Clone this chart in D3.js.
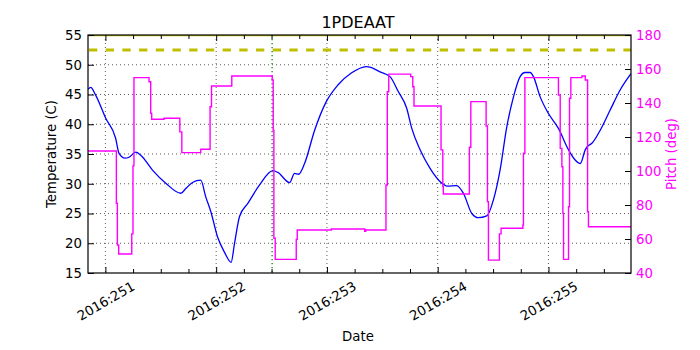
<!DOCTYPE html>
<html>
<head>
<meta charset="utf-8">
<script src="https://cdn.jsdelivr.net/npm/d3@7"></script>
<style>
  body { margin: 0; background: #fff; }
  svg { display: block; }
  text { font-family: "DejaVu Sans", sans-serif; }
</style>
</head>
<body>
<svg id="chart" width="700" height="350"></svg>
<script>
// Time axis: fractional day of year 2016
const dayRange = [250.843, 255.745];
const dayTicks = [251, 252, 253, 254, 255];
const dayTickLabels = ["2016:251", "2016:252", "2016:253", "2016:254", "2016:255"];
const dayMinorTicks = [251.25, 251.5, 251.75, 252.25, 252.5, 252.75, 253.25, 253.5, 253.75,
                       254.25, 254.5, 254.75, 255.25, 255.5];

const tempTicks = [15, 20, 25, 30, 35, 40, 45, 50, 55];
const pitchTicks = [40, 60, 80, 100, 120, 140, 160, 180];

// 1PDEAAT temperature (C)
const tempTime = [250.843, 250.867, 250.912, 251.003, 251.093, 251.123, 251.177, 251.213, 251.274, 251.319,
  251.425, 251.545, 251.681, 251.726, 251.786, 251.861, 251.906, 251.952, 252.012, 252.072,
  252.135, 252.166, 252.211, 252.286, 252.392, 252.512, 252.557, 252.663, 252.708, 252.744,
  252.798, 252.889, 252.994, 253.099, 253.220, 253.355, 253.389, 253.479, 253.569, 253.644,
  253.720, 253.766, 253.841, 253.931, 254.037, 254.082, 254.172, 254.232, 254.308, 254.367,
  254.443, 254.503, 254.563, 254.624, 254.684, 254.744, 254.789, 254.835, 254.864, 254.925,
  255.000, 255.090, 255.181, 255.241, 255.287, 255.332, 255.353, 255.392, 255.467, 255.557,
  255.648, 255.745];
const tempValue = [45.9, 46.2, 44.9, 41.0, 37.6, 35.1, 34.3, 34.45, 35.3, 34.8,
  32.3, 30.1, 28.4, 29.2, 30.2, 30.6, 27.8, 25.3, 21.1, 18.6,
  16.8, 20.0, 24.5, 26.7, 29.8, 32.2, 31.9, 30.2, 31.75, 31.6,
  33.4, 39.0, 43.8, 46.6, 48.6, 49.7, 49.6, 48.8, 48.0, 45.5,
  42.7, 39.3, 35.7, 32.6, 30.1, 29.6, 29.7, 28.4, 25.0, 24.3,
  24.6, 27.3, 32.3, 39.6, 44.6, 48.0, 48.7, 48.7, 48.0, 44.6,
  41.8, 39.3, 35.7, 34.0, 33.4, 35.7, 36.3, 36.8, 39.0, 42.4,
  45.8, 48.5];

// Pitch (deg), held until the next sample
const pitchTime = [250.843, 251.099, 251.108, 251.120, 251.238, 251.249, 251.258, 251.394, 251.409, 251.418,
  251.530, 251.672, 251.690, 251.861, 251.945, 251.958, 252.141, 252.506, 252.515, 252.521,
  252.533, 252.723, 252.732, 253.039, 253.341, 253.350, 253.533, 253.545, 253.558, 253.756,
  253.775, 253.786, 254.030, 254.046, 254.051, 254.286, 254.299, 254.437, 254.449, 254.458,
  254.557, 254.572, 254.769, 254.774, 254.787, 255.090, 255.106, 255.121, 255.130, 255.136,
  255.181, 255.190, 255.202, 255.302, 255.332, 255.353, 255.361, 255.745];
const pitchValue = [111.8, 81, 56.5, 51.2, 63, 103, 154.9, 152.5, 134, 130.4,
  131, 123, 110.8, 112.8, 137.8, 150, 155.9, 153.5, 124, 60.4,
  48, 59.8, 65.3, 65.9, 64.6, 65.3, 91.8, 146.6, 157, 155.5,
  149.6, 138.2, 112.4, 90.8, 86.5, 114, 140.8, 126.5, 82, 47.6,
  63, 66.3, 68.2, 110.4, 154.9, 144.7, 113.3, 102.5, 75.1, 48,
  79, 142.8, 154.9, 155.9, 153.5, 76, 67.2, 67.2];

const tempLimit = 52.5;     // yellow dashed limit
const tempCeiling = 55;     // yellow solid line at the top
const eventDay = 252.505;   // green dotted marker

const margin = { left: 88, right: 631, top: 35, bottom: 273 };
const svg = d3.select("#chart");

const x = d3.scaleLinear().domain(dayRange).range([margin.left, margin.right]);
const yT = d3.scaleLinear().domain([15, 55]).range([margin.bottom, margin.top]);
const yP = d3.scaleLinear().domain([40, 180]).range([margin.bottom, margin.top]);

svg.append("defs").append("clipPath").attr("id", "plotClip")
  .append("rect").attr("x", margin.left).attr("y", margin.top)
  .attr("width", margin.right - margin.left).attr("height", margin.bottom - margin.top);

// grid
const grid = svg.append("g").attr("stroke", "#333").attr("stroke-width", 0.8)
  .attr("stroke-dasharray", "1,3");
grid.selectAll("line.v").data(dayTicks).join("line").attr("class", "v")
  .attr("x1", d => x(d)).attr("x2", d => x(d))
  .attr("y1", margin.top).attr("y2", margin.bottom);
grid.selectAll("line.h").data(tempTicks.slice(1, -1)).join("line").attr("class", "h")
  .attr("x1", margin.left).attr("x2", margin.right)
  .attr("y1", d => yT(d)).attr("y2", d => yT(d));

const plot = svg.append("g").attr("clip-path", "url(#plotClip)");

// limit lines
plot.append("line")
  .attr("x1", margin.left).attr("x2", margin.right)
  .attr("y1", yT(tempLimit)).attr("y2", yT(tempLimit))
  .attr("stroke", "#bfbf00").attr("stroke-width", 3)
  .attr("stroke-dasharray", "8.3,8.4").attr("stroke-dashoffset", -1);
plot.append("line")
  .attr("x1", margin.left).attr("x2", margin.right)
  .attr("y1", yT(tempCeiling)).attr("y2", yT(tempCeiling))
  .attr("stroke", "#bfbf00").attr("stroke-width", 2.5);

// temperature
const tempData = tempTime.map((t, i) => [t, tempValue[i]]);
plot.append("path").datum(tempData)
  .attr("fill", "none").attr("stroke", "#0000ff").attr("stroke-width", 1.3)
  .attr("d", d3.line().x(d => x(d[0])).y(d => yT(d[1])).curve(d3.curveMonotoneX));

// event marker
plot.append("line")
  .attr("x1", x(eventDay)).attr("x2", x(eventDay))
  .attr("y1", margin.top).attr("y2", margin.bottom)
  .attr("stroke", "#008000").attr("stroke-width", 1.2).attr("stroke-dasharray", "1.3,2.7");

// pitch
const pitchData = pitchTime.map((t, i) => [t, pitchValue[i]]);
plot.append("path").datum(pitchData)
  .attr("fill", "none").attr("stroke", "#ff00ff").attr("stroke-width", 1.4)
  .attr("d", d3.line().x(d => x(d[0])).y(d => yP(d[1])).curve(d3.curveStepAfter));

// axes
const fs = "13.3px";
function styleAxis(g) {
  g.select(".domain").remove();
  g.selectAll(".tick line").attr("stroke", "#000");
  g.selectAll(".tick text").attr("font-size", fs).attr("font-family", "DejaVu Sans, sans-serif");
}

svg.append("g").attr("transform", `translate(0,${margin.bottom})`)
  .call(d3.axisBottom(x).tickValues(dayMinorTicks).tickSize(-4).tickFormat(""))
  .call(styleAxis);
svg.append("g").attr("transform", `translate(0,${margin.top})`)
  .call(d3.axisTop(x).tickValues(dayMinorTicks).tickSize(-4).tickFormat(""))
  .call(styleAxis);
svg.append("g").attr("transform", `translate(0,${margin.top})`)
  .call(d3.axisTop(x).tickValues(dayTicks).tickSize(-6).tickFormat(""))
  .call(styleAxis);

const xAxis = svg.append("g").attr("transform", `translate(0,${margin.bottom})`)
  .call(d3.axisBottom(x).tickValues(dayTicks).tickSize(-6)
    .tickFormat((d, i) => dayTickLabels[i]))
  .call(styleAxis);
xAxis.selectAll(".tick text")
  .attr("y", 0).attr("dy", "0.35em")
  .attr("text-anchor", "middle")
  .attr("fill", "#000")
  .attr("transform", "translate(0,28) rotate(-30)");

svg.append("g").attr("transform", `translate(${margin.left},0)`)
  .call(d3.axisLeft(yT).tickValues(tempTicks).tickSize(-6).tickPadding(6))
  .call(styleAxis)
  .selectAll(".tick text").attr("fill", "#000");

svg.append("g").attr("transform", `translate(${margin.right},0)`)
  .call(d3.axisRight(yP).tickValues(pitchTicks).tickSize(-6).tickPadding(5))
  .call(styleAxis)
  .selectAll(".tick text").attr("fill", "#ff00ff");

// frame
svg.append("rect")
  .attr("x", margin.left).attr("y", margin.top)
  .attr("width", margin.right - margin.left).attr("height", margin.bottom - margin.top)
  .attr("fill", "none").attr("stroke", "#000").attr("stroke-width", 1.2);

// titles
svg.append("text").attr("x", 358).attr("y", 28).attr("text-anchor", "middle")
  .attr("font-size", "16px").attr("fill", "#000").text("1PDEAAT");
svg.append("text").attr("x", 358).attr("y", 341).attr("text-anchor", "middle")
  .attr("font-size", fs).attr("fill", "#000").text("Date");
svg.append("text").attr("transform", "translate(56,154) rotate(-90)")
  .attr("text-anchor", "middle").attr("font-size", fs).attr("fill", "#000")
  .text("Temperature (C)");
svg.append("text").attr("transform", "translate(676,154) rotate(-90)")
  .attr("text-anchor", "middle").attr("font-size", fs).attr("fill", "#ff00ff")
  .text("Pitch (deg)");
</script>
</body>
</html>
